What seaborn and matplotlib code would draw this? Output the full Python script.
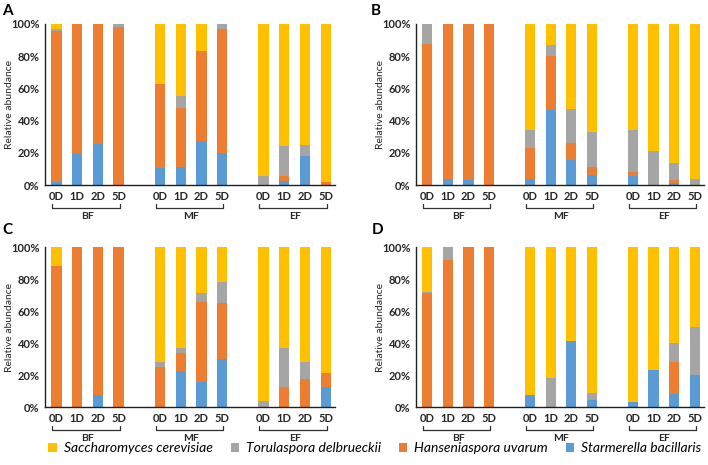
# ===============================
# 1. Imports / style
# ===============================
import numpy as np
import pandas as pd
import matplotlib
matplotlib.use("Agg")
import matplotlib.pyplot as plt
import matplotlib.transforms as mtransforms
from matplotlib.patches import Patch
import seaborn as sns

sns.set_style("white")
plt.rcParams["font.family"] = ["Lato", "DejaVu Sans"]

# ===============================
# 2. Data (relative abundance, %)
# ===============================
days = ["0D", "1D", "2D", "5D"]
groups = ["BF", "MF", "EF"]
positions = [0, 1, 2, 3, 5, 6, 7, 8, 10, 11, 12, 13]

species = ["Saccharomyces cerevisiae", "Torulaspora delbrueckii",
           "Hanseniaspora uvarum", "Starmerella bacillaris"]
colors = ["#FFC000", "#A5A5A5", "#ED7D31", "#5B9BD5"]

# panel A
A_sbac = [2, 19, 25.5, 0, 10.8, 11, 27.5, 19.7, 0, 2.3, 18, 0]
A_huva = [93.5, 81, 74.5, 98, 52.2, 37, 55.9, 77.3, 0, 3.3, 0, 2]
A_tdel = [1.5, 0, 0, 2, 0, 7.5, 0, 3, 5.8, 18.8, 7, 0]
A_scer = [3, 0, 0, 0, 37, 44.5, 16.6, 0, 94.2, 75.6, 75, 98]

# panel B
B_sbac = [0, 3.7, 3.1, 0, 3.5, 46.8, 15.5, 6.4, 5.8, 0, 1.2, 0]
B_huva = [87.8, 96.3, 96.9, 100, 19.7, 33.3, 10.8, 4.6, 2.5, 0, 1.9, 0]
B_tdel = [12.2, 0, 0, 0, 11.2, 6.9, 21.1, 22, 26.1, 21, 10.4, 3.7]
B_scer = [0, 0, 0, 0, 65.6, 13, 52.6, 67, 65.6, 79, 86.5, 96.3]

# panel C
C_sbac = [0, 0, 7.5, 0, 0, 22.4, 15.6, 30, 0, 0, 0, 12.7]
C_huva = [88, 100, 92.5, 100, 24.7, 11.6, 50, 35, 0, 12.2, 17.8, 8.7]
C_tdel = [0, 0, 0, 0, 3.7, 3, 5.4, 13.2, 3.9, 24.9, 10.4, 0]
C_scer = [12, 0, 0, 0, 71.6, 63, 29, 21.8, 96.1, 62.9, 71.8, 78.6]

# panel D
D_sbac = [0, 0, 0, 0, 7.2, 0, 41, 4.3, 3.3, 23.4, 7.9, 19.7]
D_huva = [71.2, 91.7, 100, 100, 0, 0, 0, 0, 0, 0, 20.1, 0]
D_tdel = [0.6, 8.3, 0, 0, 0, 18.2, 0, 4.6, 0, 0, 11.8, 30.2]
D_scer = [28.2, 0, 0, 0, 92.8, 81.8, 59, 91.1, 96.7, 76.6, 60.2, 50.1]

panels = {
    "A": (A_sbac, A_huva, A_tdel, A_scer),
    "B": (B_sbac, B_huva, B_tdel, B_scer),
    "C": (C_sbac, C_huva, C_tdel, C_scer),
    "D": (D_sbac, D_huva, D_tdel, D_scer),
}

# ===============================
# 3. Figure layout (pixels -> fractions)
# ===============================
W, H = 708, 465
fig = plt.figure(figsize=(W / 100, H / 100), dpi=100)

boxes = {  # left, top, right, bottom in pixels
    "A": (45, 24, 335, 185),
    "B": (416, 24, 704, 185),
    "C": (45, 247, 335, 407),
    "D": (416, 247, 704, 407),
}
txt_col = "#262626"


def draw_panel(key, ax):
    sbac, huva, tdel, scer = panels[key]
    stack = np.array([sbac, huva, tdel, scer])
    cum = np.cumsum(stack, axis=0)
    df = pd.DataFrame({
        "pos": positions,
        "Starmerella bacillaris": cum[0],
        "Hanseniaspora uvarum": cum[1],
        "Torulaspora delbrueckii": cum[2],
        "Saccharomyces cerevisiae": cum[3],
    })
    # draw the tallest cumulative layer first, then overlay the lower ones
    for sp, col in zip(species, colors):
        sns.barplot(data=df, x="pos", y=sp, color=col, native_scale=True,
                    width=0.5, saturation=1, linewidth=0, errorbar=None, ax=ax)

    ax.set_xlim(-0.55, 13.45)
    ax.set_ylim(0, 100)
    ax.set_yticks([0, 20, 40, 60, 80, 100])
    ax.set_yticklabels([f"{v}%" for v in range(0, 101, 20)],
                       fontsize=8, fontweight="bold", color=txt_col)
    ax.set_xticks(positions)
    ax.set_xticklabels(days * 3, fontsize=8, fontweight="bold", color=txt_col)
    ax.tick_params(axis="both", length=0, pad=4)
    ax.set_xlabel("")
    ax.set_ylabel("Relative abundance", fontsize=7.5, color=txt_col)
    w_px = boxes[key][2] - boxes[key][0]
    ax.yaxis.set_label_coords(-31 / w_px, 0.5)
    for s in ["top", "right"]:
        ax.spines[s].set_visible(False)
    for s in ["left", "bottom"]:
        ax.spines[s].set_color("#202020")
        ax.spines[s].set_linewidth(1)

    # group brackets under the day labels
    trans = mtransforms.blended_transform_factory(ax.transData, ax.transAxes)
    for gi, g in enumerate(groups):
        x0 = positions[gi * 4] - 0.2
        x1 = positions[gi * 4 + 3] + 0.05
        ax.plot([x0, x0, x1, x1], [-0.12, -0.145, -0.145, -0.12],
                transform=trans, color="#303030", lw=0.9, clip_on=False)
        ax.text((positions[gi * 4] + positions[gi * 4 + 3]) / 2, -0.195, g,
                transform=trans, ha="center", va="center", fontsize=7.5,
                fontweight="bold", color=txt_col)


letter_pos = {"A": (7, 11), "B": (376, 11), "C": (7, 230), "D": (378, 230)}

for key, (l, t, r, b) in boxes.items():
    ax = fig.add_axes([l / W, 1 - b / H, (r - l) / W, (b - t) / H])
    draw_panel(key, ax)
    lx, ly = letter_pos[key]
    fig.text(lx / W, 1 - ly / H, key, fontsize=11, fontweight="bold",
             ha="center", va="center", color="black")

# ===============================
# 4. Legend
# ===============================
handles = [Patch(facecolor=c, edgecolor="none", label=s)
           for s, c in zip(species, colors)]
leg = fig.legend(handles=handles, loc="center", ncol=4,
                 bbox_to_anchor=(375 / W, 1 - 448 / H), frameon=False,
                 handlelength=0.6, handleheight=0.6, handletextpad=0.5,
                 columnspacing=1.3, borderaxespad=0, borderpad=0,
                 prop={"size": 10, "style": "italic"})
for t in leg.get_texts():
    t.set_color("black")

fig.savefig("out.png", dpi=100)
